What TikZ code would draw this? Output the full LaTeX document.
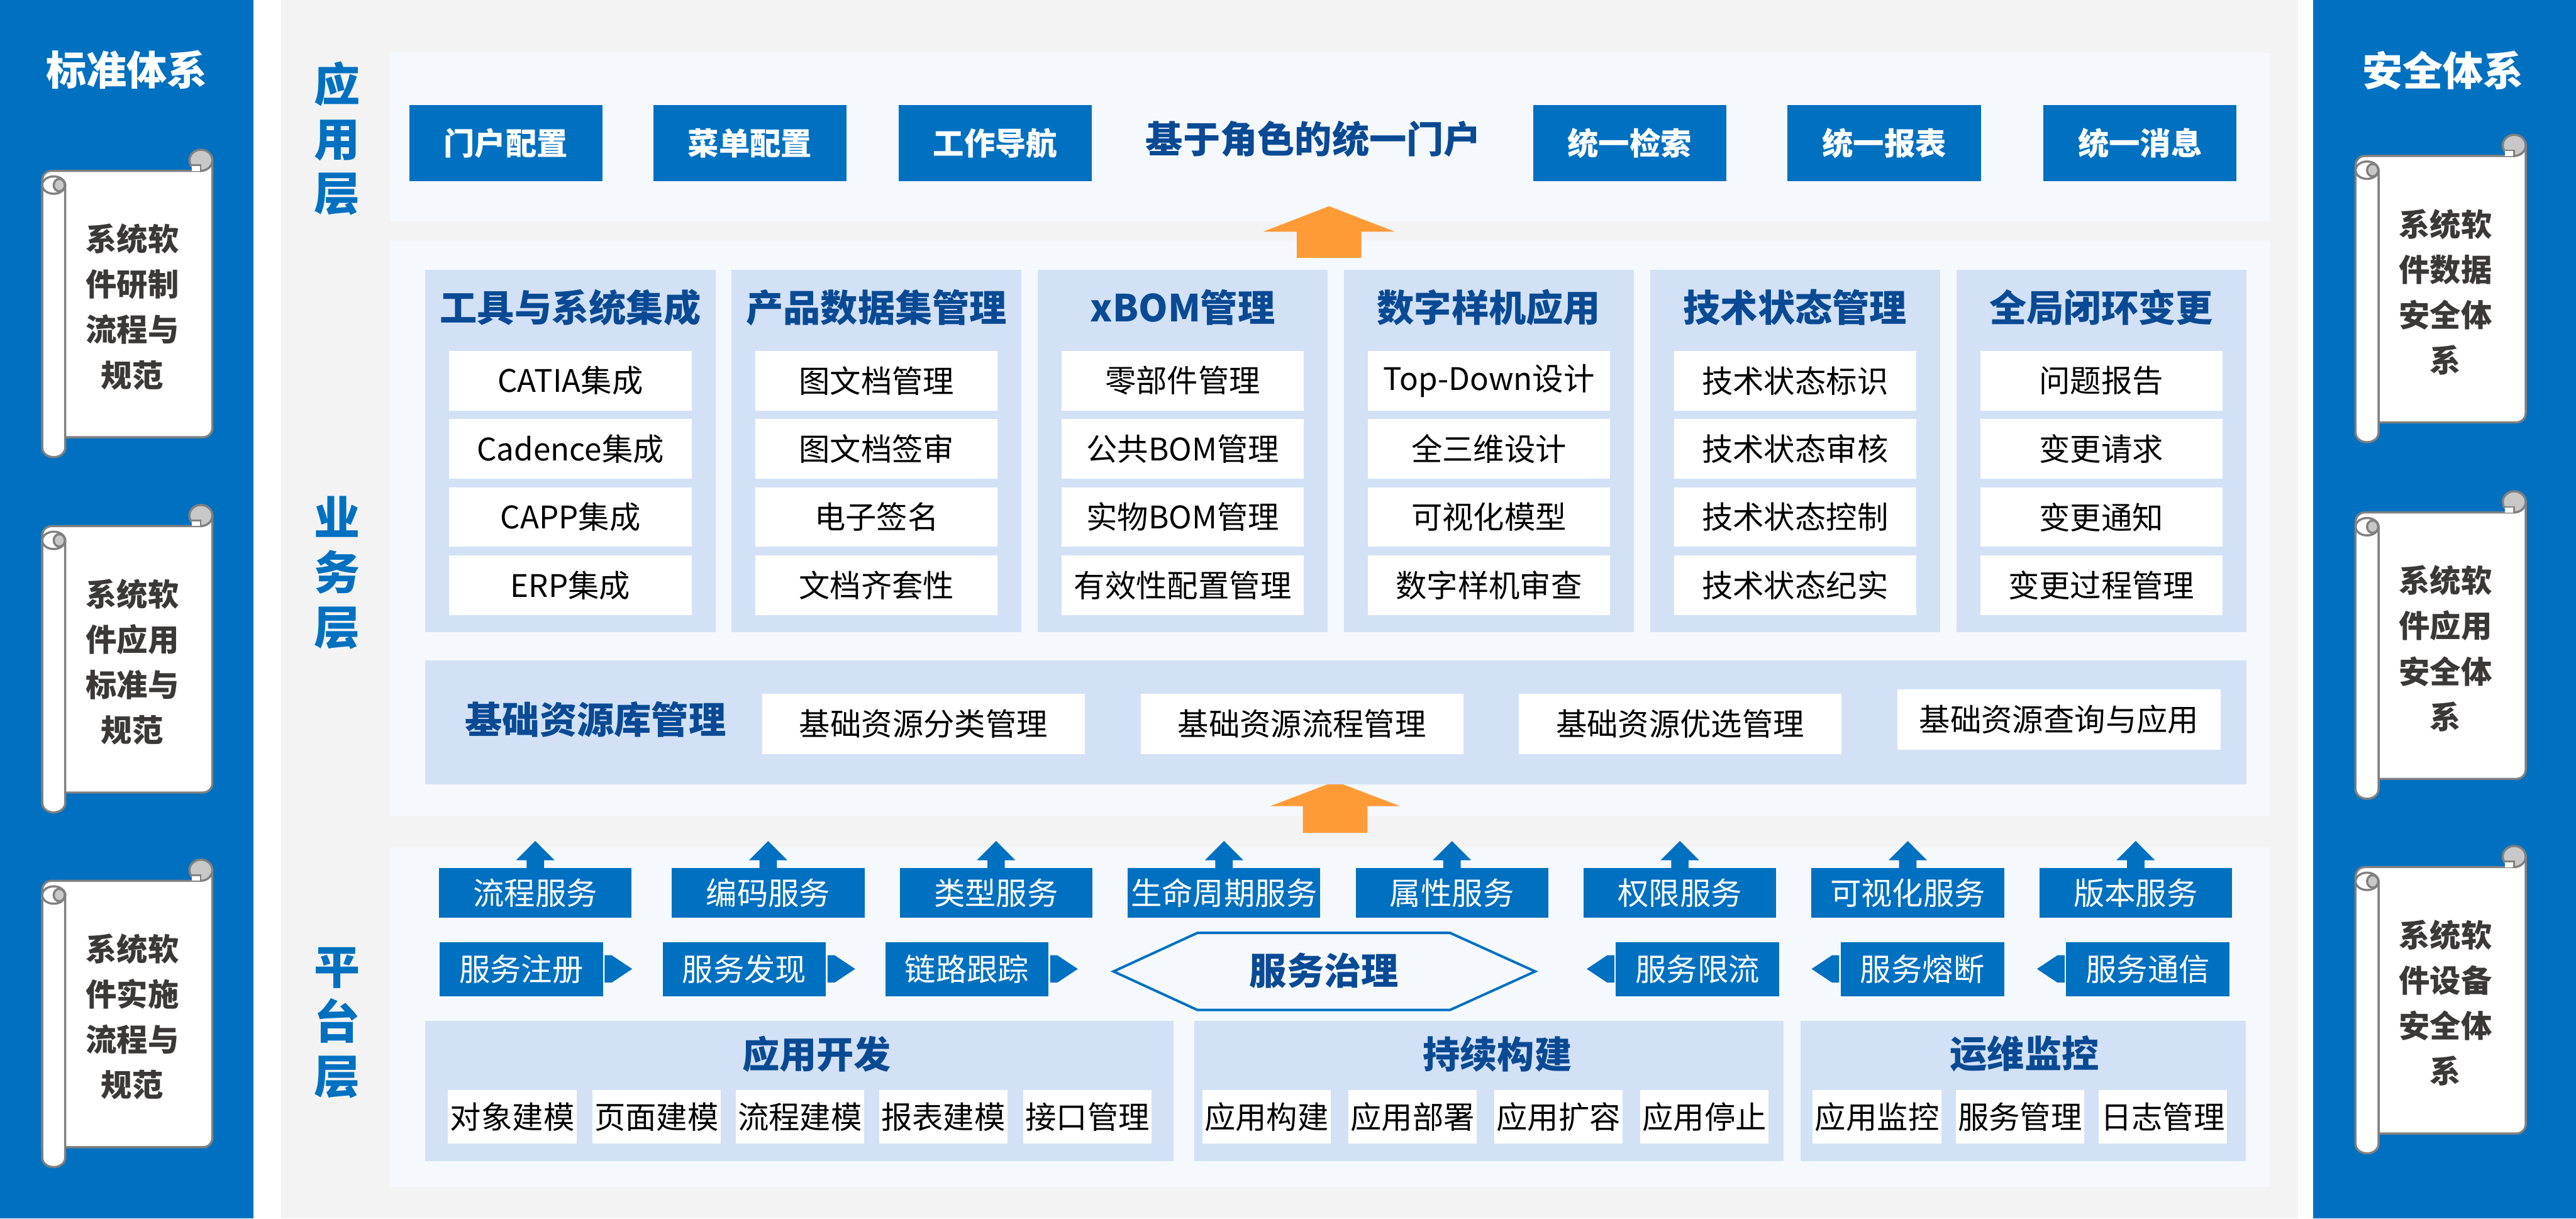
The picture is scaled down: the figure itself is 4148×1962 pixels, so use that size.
\documentclass[tikz,border=0pt]{standalone}
\usepackage{fontspec}
\setmainfont{Noto Sans CJK SC}
\definecolor{cblue}{HTML}{0070C0}
\definecolor{cdark}{HTML}{0A4A94}
\definecolor{ccol}{HTML}{D2E1F6}
\definecolor{cpanel}{HTML}{F5F9FD}
\definecolor{cbg}{HTML}{F3F3F3}
\definecolor{corange}{HTML}{FF9B37}
\definecolor{cscrolltext}{HTML}{3B3838}
\definecolor{cscrollline}{HTML}{808080}
\definecolor{ccap}{HTML}{C8C8C8}
\tikzset{
  panel/.style={fill=cpanel, inner sep=0, outer sep=0},
  colbox/.style={fill=ccol, inner sep=0, outer sep=0},
  btn/.style={fill=cblue, text=white, inner sep=0, outer sep=0, font=\fontsize{50}{60}\selectfont\bfseries},
  itembox/.style={fill=white, text=black, inner sep=0, outer sep=0, minimum width=390, minimum height=96, font=\fontsize{50}{60}\selectfont},
  pitem/.style={itembox, minimum width=207, minimum height=86},
  hdr/.style={text=cdark, inner sep=0, font=\fontsize{60}{72}\selectfont\bfseries},
  svc/.style={fill=cblue, text=white, inner sep=0, outer sep=0, font=\fontsize{50}{60}\selectfont},
  layerlbl/.style={text=cblue, inner sep=0, align=center, font=\fontsize{74}{88}\selectfont\bfseries},
  sidetitle/.style={text=white, inner sep=0, font=\fontsize{65}{78}\selectfont\bfseries},
  scrolltext/.style={text=cscrolltext, inner sep=0, align=center, font=\fontsize{50}{73}\selectfont\bfseries},
  scrollline/.style={draw=cscrollline, line width=3.5},
}
\newcommand{\myscroll}[4]{%
\begin{scope}[shift={(#1,#2)}]
\draw[scrollline, fill=white] (0,463) -- (0,49) arc[start angle=180, end angle=270, radius=15] -- (256,34) -- (256,17) -- (274,17) -- (274,448) arc[start angle=0, end angle=90, radius=15] -- cycle;
\draw[scrollline, fill=ccap] (255.5,17) ellipse [x radius=18.5, y radius=17];
\fill[white] (241,25) rectangle (255,34);
\draw[scrollline, line width=2.5] (241,25) -- (255,25) -- (255,34);
\draw[scrollline, fill=white] (37,57) -- (0,57) -- (0,480) arc[start angle=180, end angle=0, x radius=18.5, y radius=15] -- cycle;
\draw[scrollline, fill=white] (18.5,57) ellipse [x radius=18.5, y radius=14];
\draw[scrollline, fill=ccap] (27.5,57) ellipse [x radius=9, y radius=10];
\node[scrolltext] (#3) at (145,253) {#4};
\end{scope}}
\begin{document}
\begin{tikzpicture}[x=1pt,y=-1pt]
\useasboundingbox (0,0) rectangle (4148,1962);
\fill[white] (0,0) rectangle (4148,1962);
\fill[cblue] (0,0) rectangle (408,1962);
\fill[cblue] (3725,0) rectangle (4148,1962);
\fill[cbg] (453,0) rectangle (3700,1962);

% side panels
\node[sidetitle] (lt) at (204,112) {标准体系};
\node[sidetitle] (rt) at (3934,113) {安全体系};
\myscroll{68}{241}{ls1}{系统软\\件研制\\流程与\\规范}
\myscroll{68}{813}{ls2}{系统软\\件应用\\标准与\\规范}
\myscroll{68}{1384}{ls3}{系统软\\件实施\\流程与\\规范}
\myscroll{3793}{217}{rs1}{系统软\\件数据\\安全体\\系}
\myscroll{3793}{791}{rs2}{系统软\\件应用\\安全体\\系}
\myscroll{3793}{1362}{rs3}{系统软\\件设备\\安全体\\系}

% layer panels
\node[panel, minimum width=3027, minimum height=271] (apppanel) at (2142.5,220.5) {};
\node[panel, minimum width=3027, minimum height=926] (bizpanel) at (2142.5,850) {};
\node[panel, minimum width=3027, minimum height=547] (platpanel) at (2142.5,1637.5) {};

\node[layerlbl] (lapp) at (543,223) {应\\用\\层};
\node[layerlbl] (lbiz) at (543,922) {业\\务\\层};
\node[layerlbl] (lplat) at (543,1647) {平\\台\\层};

% application layer
\node[btn, minimum width=311, minimum height=123] (b1) at (814.5,230.5) {门户配置};
\node[btn, minimum width=311, minimum height=123] (b2) at (1207.5,230.5) {菜单配置};
\node[btn, minimum width=311, minimum height=123] (b3) at (1602.5,230.5) {工作导航};
\node[hdr] (portal) at (2115,224) {基于角色的统一门户};
\node[btn, minimum width=311, minimum height=123] (b4) at (2624,230.5) {统一检索};
\node[btn, minimum width=311, minimum height=123] (b5) at (3034,230.5) {统一报表};
\node[btn, minimum width=311, minimum height=123] (b6) at (3446,230.5) {统一消息};

% orange arrows
\fill[corange] (2088,415) -- (2088,373) -- (2034,373) -- (2140,332) -- (2246,373) -- (2192,373) -- (2192,415) -- cycle;
\fill[corange] (2098,1341) -- (2098,1298) -- (2045,1298) -- (2150,1258) -- (2255,1298) -- (2202,1298) -- (2202,1341) -- cycle;

% business columns
\foreach \i/\hd/\a/\b/\c/\d in {
  1/工具与系统集成/CATIA集成/Cadence集成/CAPP集成/ERP集成,
  2/产品数据集管理/图文档管理/图文档签审/电子签名/文档齐套性,
  3/xBOM管理/零部件管理/公共BOM管理/实物BOM管理/有效性配置管理,
  4/数字样机应用/Top-Down设计/全三维设计/可视化模型/数字样机审查,
  5/技术状态管理/技术状态标识/技术状态审核/技术状态控制/技术状态纪实,
  6/全局闭环变更/问题报告/变更请求/变更通知/变更过程管理} {
  \pgfmathsetmacro\cx{918.5+493*(\i-1)}
  \node[colbox, minimum width=467, minimum height=584] (col\i) at (\cx,726) {};
  \node[hdr] (colh\i) at (\cx,495) {\hd};
  \node[itembox] (c\i r1) at (\cx,613) {\a};
  \node[itembox] (c\i r2) at (\cx,722.5) {\b};
  \node[itembox] (c\i r3) at (\cx,832.5) {\c};
  \node[itembox] (c\i r4) at (\cx,942.5) {\d};
}

% base resources
\node[colbox, minimum width=2932, minimum height=200] (basebox) at (2151,1163) {};
\node[hdr] (baseh) at (959,1158) {基础资源库管理};
\node[itembox, minimum width=520, minimum height=97] (base1) at (1487,1165.5) {基础资源分类管理};
\node[itembox, minimum width=520, minimum height=97] (base2) at (2096.5,1165.5) {基础资源流程管理};
\node[itembox, minimum width=520, minimum height=97] (base3) at (2705.5,1165.5) {基础资源优选管理};
\node[itembox, minimum width=520, minimum height=97] (base4) at (3315.5,1158.5) {基础资源查询与应用};

% platform services row 1
\foreach \cx/\t [count=\i] in {862/流程服务, 1237/编码服务, 1604/类型服务, 1971/生命周期服务, 2338/属性服务, 2705/权限服务, 3072/可视化服务, 3439/版本服务} {
  \node[svc, minimum width=310, minimum height=80] (svc\i) at (\cx,1438) {\t};
  \fill[cblue] (\cx-14,1399) -- (\cx-14,1385) -- (\cx-31,1385) -- (\cx,1354) -- (\cx+31,1385) -- (\cx+14,1385) -- (\cx+14,1399) -- cycle;
}

% platform row 2
\foreach \cx/\t [count=\i] in {839.5/服务注册, 1198.5/服务发现, 1557/链路跟踪} {
  \node[svc, minimum width=263, minimum height=87] (gl\i) at (\cx,1560.5) {\t};
  \fill[cblue] (\cx+134,1538) -- (\cx+145.5,1538) -- (\cx+178.5,1560) -- (\cx+145.5,1582) -- (\cx+134,1582) -- cycle;
}
\foreach \cx/\t [count=\i] in {2733.5/服务限流, 3095.5/服务熔断, 3458.5/服务通信} {
  \node[svc, minimum width=263, minimum height=87] (gr\i) at (\cx,1560.5) {\t};
  \fill[cblue] (\cx-134,1538) -- (\cx-145.5,1538) -- (\cx-178.5,1560) -- (\cx-145.5,1582) -- (\cx-134,1582) -- cycle;
}
\draw[cblue, line width=4, fill=cpanel] (1793,1564) -- (1928,1502) -- (2335,1502) -- (2472,1564) -- (2335,1626) -- (1928,1626) -- cycle;
\node[hdr] (gov) at (2132,1563) {服务治理};

% platform groups
\node[colbox, minimum width=1205, minimum height=225] (gdev) at (1287.5,1756.5) {};
\node[hdr] (gdevh) at (1315,1697) {应用开发};
\node[colbox, minimum width=949, minimum height=225] (gbuild) at (2397.5,1756.5) {};
\node[hdr] (gbuildh) at (2411,1697) {持续构建};
\node[colbox, minimum width=717, minimum height=225] (gops) at (3257.5,1756.5) {};
\node[hdr] (gopsh) at (3260,1697) {运维监控};
\foreach \cx/\t [count=\i] in {825/对象建模, 1057/页面建模, 1288/流程建模, 1519/报表建模, 1751/接口管理,
  2039.5/应用构建, 2274.5/应用部署, 2509.5/应用扩容, 2744.5/应用停止,
  3022.5/应用监控, 3252.5/服务管理, 3482.5/日志管理} {
  \node[pitem] (pi\i) at (\cx,1798) {\t};
}
\end{tikzpicture}
\end{document}
